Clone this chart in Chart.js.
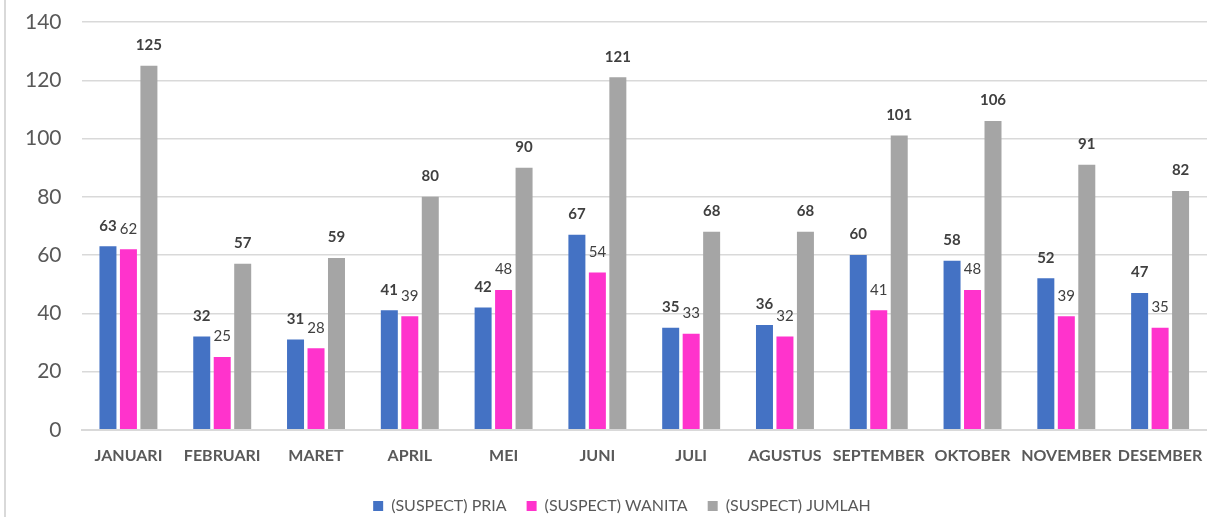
<!DOCTYPE html>
<html>
<head>
<meta charset="utf-8">
<script src="https://cdn.jsdelivr.net/npm/chart.js@4/dist/chart.umd.min.js"></script>
<style>
  html, body { margin: 0; padding: 0; background: #fff; }
  #wrap { position: relative; width: 1207px; height: 517px; }
  #edge { position: absolute; left: 4px; top: 0; width: 2px; height: 517px; background: #d9d9d9; }
  canvas { position: absolute; left: 0; top: 0; }
</style>
</head>
<body>
<div id="wrap">
  <div id="edge"></div>
  <canvas id="c" width="1207" height="517"></canvas>
</div>
<script>
const categories = ["JANUARI","FEBRUARI","MARET","APRIL","MEI","JUNI","JULI","AGUSTUS","SEPTEMBER","OKTOBER","NOVEMBER","DESEMBER"];
const pria   = [63, 32, 31, 41, 42, 67, 35, 36, 60, 58, 52, 47];
const wanita = [62, 25, 28, 39, 48, 54, 33, 32, 41, 48, 39, 35];
const jumlah = [125, 57, 59, 80, 90, 121, 68, 68, 101, 106, 91, 82];
const seriesNames = ["(SUSPECT) PRIA", "(SUSPECT) WANITA", "(SUSPECT) JUMLAH"];
const seriesColors = ["#4472C4", "#FF33CC", "#A5A5A5"];
const labelWeights = ["bold", "normal", "bold"];
const yTicks = [0, 20, 40, 60, 80, 100, 120, 140];

const FONT = "Lato, 'Open Sans', sans-serif";

const valueLabels = {
  id: 'valueLabels',
  afterDatasetsDraw(chart) {
    const ctx = chart.ctx;
    ctx.save();
    ctx.textAlign = 'center';
    ctx.textBaseline = 'bottom';
    ctx.fillStyle = '#404040';
    chart.data.datasets.forEach((ds, i) => {
      const meta = chart.getDatasetMeta(i);
      ctx.font = labelWeights[i] + ' 15px ' + FONT;
      meta.data.forEach((bar, j) => {
        ctx.fillText(String(ds.data[j]), bar.x, bar.y - 13);
      });
    });
    ctx.restore();
  }
};

// nudge the legend box: adjust its height and centre it under the plot
const legendPlacement = {
  id: 'legendPlacement',
  beforeLayout(chart) {
    const lg = chart.legend;
    if (lg && !lg._patched) {
      const origFit = lg.fit.bind(lg);
      lg.fit = function () { origFit(); this.height -= 10; };
      lg._patched = true;
    }
  },
  afterLayout(chart) {
    const lg = chart.legend;
    if (lg) {
      lg.left += 32; lg.width = lg.right - lg.left;
      lg.top -= 3; lg.bottom -= 3;
    }
  }
};

new Chart(document.getElementById('c'), {
  type: 'bar',
  data: {
    labels: categories,
    datasets: [
      { label: seriesNames[0], data: pria,   backgroundColor: seriesColors[0] },
      { label: seriesNames[1], data: wanita, backgroundColor: seriesColors[1] },
      { label: seriesNames[2], data: jumlah, backgroundColor: seriesColors[2] }
    ]
  },
  options: {
    responsive: false,
    animation: false,
    devicePixelRatio: 1,
    datasets: { bar: { categoryPercentage: 0.655, barPercentage: 0.83 } },
    layout: { padding: { left: 5, right: 0, top: 22, bottom: 0 } },
    plugins: {
      legend: {
        position: 'bottom',
        labels: {
          boxWidth: 10, boxHeight: 10, padding: 20,
          color: '#595959',
          font: { family: FONT, size: 16 }
        }
      },
      tooltip: { enabled: false }
    },
    scales: {
      x: {
        grid: { display: false, drawTicks: false },
        border: { color: '#d9d9d9', width: 2 },
        afterFit(scale) { scale.paddingLeft = 0; scale.paddingRight = 0; },
        ticks: {
          color: '#595959', padding: 16, maxRotation: 0, autoSkip: false,
          font: { family: FONT, size: 16, weight: 'bold' }
        }
      },
      y: {
        min: 0, max: 140,
        afterBuildTicks(scale) { scale.ticks = yTicks.map(v => ({ value: v })); },
        afterFit(scale) { scale.paddingTop = 0; scale.paddingBottom = 0; },
        grid: { color: '#d9d9d9', lineWidth: 1.5, drawTicks: false },
        border: { display: false },
        ticks: {
          color: '#595959', padding: 20,
          font: { family: FONT, size: 21 }
        }
      }
    }
  },
  plugins: [valueLabels, legendPlacement]
});
</script>
</body>
</html>
